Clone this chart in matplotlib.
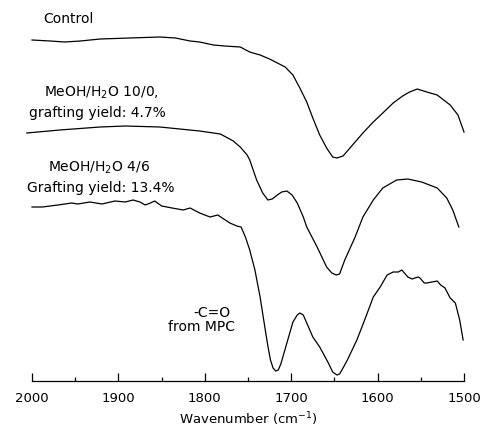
import matplotlib
matplotlib.use("Agg")
import matplotlib.pyplot as plt
from matplotlib.ticker import MultipleLocator

plt.rcParams['font.family'] = ['DejaVu Sans']

# Wavenumber (cm^-1) and transmittance (a.u., offset traces)
control_wn = [2000, 1979, 1962, 1944, 1921, 1887, 1852, 1834, 1817, 1806, 1790, 1777,
              1759, 1748, 1736, 1725, 1707, 1698, 1690, 1682, 1675, 1667, 1659, 1652,
              1647, 1640, 1632, 1617, 1605, 1594, 1582, 1571, 1563, 1554, 1543, 1531,
              1516, 1507, 1500]
control_t = [341, 340, 339, 340, 342, 343, 344, 343, 340, 339, 336, 335,
             334, 329, 326, 322, 314, 306, 293, 279, 263, 246, 233, 224,
             223, 225, 233, 248, 259, 268, 278, 285, 289, 292, 289, 286,
             276, 266, 249]

meoh10_wn = [2006, 1968, 1921, 1892, 1852, 1806, 1782, 1767, 1759, 1751, 1748, 1740,
             1733, 1727, 1722, 1716, 1711, 1705, 1699, 1693, 1686, 1682, 1670, 1659,
             1653, 1648, 1644, 1638, 1626, 1617, 1605, 1594, 1578, 1565, 1549, 1531,
             1520, 1513, 1506]
meoh10_t = [248, 251, 254, 255, 254, 250, 247, 240, 234, 226, 221, 201,
            188, 181, 182, 186, 189, 190, 186, 178, 164, 154, 134, 114,
            108, 106, 107, 121, 144, 164, 181, 193, 201, 202, 199, 193,
            183, 171, 154]

meoh46_wn = [2000, 1988, 1970, 1954, 1947, 1933, 1919, 1904, 1892, 1883, 1875, 1869,
             1863, 1858, 1850, 1838, 1825, 1817, 1806, 1794, 1785, 1778, 1771, 1763,
             1758, 1753, 1748, 1742, 1736, 1730, 1727, 1724, 1721, 1718, 1715, 1712,
             1709, 1705, 1698,
             1693, 1690, 1686, 1682, 1675, 1667, 1657, 1652, 1647, 1644, 1640, 1635,
             1624, 1615, 1605, 1597, 1589, 1582, 1576, 1572, 1565, 1560, 1557, 1553,
             1551, 1546, 1543, 1537, 1531, 1527, 1522, 1516, 1510, 1505, 1501]
meoh46_t = [174, 174, 176, 178, 177, 179, 177, 180, 179, 181, 179, 176,
            178, 180, 175, 173, 171, 173, 168, 164, 166, 162, 158, 155,
            154, 144, 131, 111, 84, 51, 35, 21, 13, 10, 11, 17,
            26, 38, 59,
            66, 68, 66, 58, 44, 34, 18, 9, 6, 7, 13, 21,
            41, 61, 84, 94, 106, 109, 109, 111, 104, 102, 103, 104,
            103, 98, 98, 99, 100, 96, 93, 83, 78, 61, 41]

xticks = [2000, 1900, 1800, 1700, 1600, 1500]

fig = plt.figure(figsize=(4.85, 4.3), dpi=100)
ax = fig.add_axes([32/485, 49/430, 432/485, 381/430])

for wn, t in [(control_wn, control_t), (meoh10_wn, meoh10_t), (meoh46_wn, meoh46_t)]:
    ax.plot(wn, t, color='black', lw=0.9, clip_on=False)

ax.set_xlim(2000, 1500)
ax.set_ylim(0, 381)
for s in ['left', 'right', 'top']:
    ax.spines[s].set_visible(False)
ax.spines['bottom'].set_linewidth(0.9)
ax.set_yticks([])
ax.set_xticks(xticks)
ax.xaxis.set_minor_locator(MultipleLocator(50))
ax.tick_params(axis='x', which='major', direction='in', length=6, width=0.9,
               pad=8, labelsize=9.5)
ax.tick_params(axis='x', which='minor', direction='in', length=3, width=0.9)
ax.set_xlabel('Wavenumber (cm$^{-1}$)', fontsize=9.5, labelpad=4)

fs = 10
ax.text(1958, 362, 'Control', ha='center', va='center', fontsize=fs)
ax.text(1920, 288, 'MeOH/H$_2$O 10/0,', ha='center', va='center', fontsize=fs)
ax.text(1924, 268, 'grafting yield: 4.7%', ha='center', va='center', fontsize=fs)
ax.text(1922, 213, 'MeOH/H$_2$O 4/6', ha='center', va='center', fontsize=fs)
ax.text(1920, 193, 'Grafting yield: 13.4%', ha='center', va='center', fontsize=fs)
ax.text(1792, 68, '-C=O', ha='center', va='center', fontsize=fs)
ax.text(1804, 54, 'from MPC', ha='center', va='center', fontsize=fs)

fig.savefig('out.png', dpi=100)
